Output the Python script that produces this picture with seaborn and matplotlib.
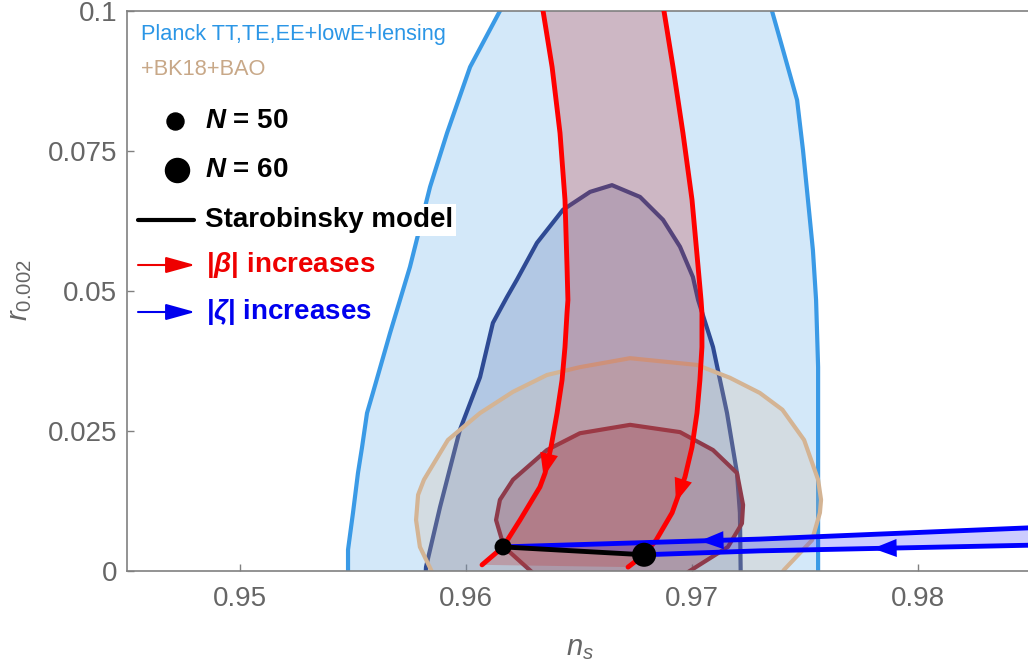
#! /usr/bin/env python3
'''
n_s - r plane with Planck / BK18 contours and model predictions
'''

# imports
import matplotlib
matplotlib.use('Agg')
import matplotlib.pyplot as plt
import numpy as np
import seaborn as sns

# Planck TT,TE,EE+lowE+lensing, 95% and 68% regions
P95_NS = [0.95478, 0.95478, 0.95500, 0.95522, 0.95540, 0.95562, 0.95588, 0.95664, 0.95752, 0.95841, 0.95916, 0.96018,
          0.96150, 0.96190, 0.97336, 0.97354, 0.97403, 0.97465, 0.97491, 0.97513, 0.97535, 0.97549, 0.97558, 0.97558,
          0.97558]
P95_R = [-0.0059, 0.0038, 0.0104, 0.0175, 0.0221, 0.0282, 0.0318, 0.0425, 0.0543, 0.0686, 0.0782, 0.0900,
         0.1000, 0.1020, 0.1020, 0.1000, 0.0930, 0.0841, 0.0752, 0.0663, 0.0573, 0.0484, 0.0364, 0.0163,
         -0.0059]
P68_NS = [0.95814, 0.95823, 0.95885, 0.95973, 0.96062, 0.96119, 0.96181, 0.96225, 0.96314, 0.96429, 0.96549, 0.96646,
          0.96770, 0.96872, 0.96947, 0.97004, 0.97027, 0.97093, 0.97155, 0.97199, 0.97212, 0.97217]
P68_R = [-0.0052, 0.0007, 0.0114, 0.0252, 0.0346, 0.0443, 0.0489, 0.0520, 0.0586, 0.0645, 0.0677, 0.0689,
         0.0668, 0.0627, 0.0579, 0.0525, 0.0484, 0.0400, 0.0282, 0.0175, 0.0104, -0.0052]

# +BK18+BAO, 95% and 68% regions
BK95_NS = [0.95885, 0.95850, 0.95796, 0.95779, 0.95788, 0.95814, 0.95920, 0.96062, 0.96208, 0.96358, 0.96504, 0.96726,
           0.97022, 0.97168, 0.97300, 0.97400, 0.97496, 0.97558, 0.97571, 0.97566, 0.97531, 0.97407, 0.97345, 0.96593]
BK95_R = [-0.0034, -0.0002, 0.0043, 0.0091, 0.0136, 0.0163, 0.0234, 0.0282, 0.0320, 0.0350, 0.0364, 0.0380,
          0.0368, 0.0345, 0.0318, 0.0288, 0.0234, 0.0163, 0.0127, 0.0104, 0.0055, 0.0002, -0.0034, -0.0070]
BK68_NS = [0.96327, 0.96292, 0.96168, 0.96133, 0.96150, 0.96208, 0.96358, 0.96504, 0.96726, 0.96947, 0.97093, 0.97199,
           0.97226, 0.97221, 0.97159, 0.96982, 0.96947]
BK68_R = [-0.0034, -0.0002, 0.0043, 0.0091, 0.0127, 0.0163, 0.0216, 0.0246, 0.0261, 0.0248, 0.0216, 0.0175,
          0.0118, 0.0085, 0.0043, -0.0002, -0.0034]

# |beta| increases: N = 50 (left) and N = 60 (right) tracks
BETA50_NS = [0.96336, 0.96341, 0.96381, 0.96416, 0.96438, 0.96447, 0.96451, 0.96447, 0.96438, 0.96425, 0.96403,
             0.96376, 0.96350, 0.96327, 0.96239, 0.96164, 0.96071]
BETA50_R = [0.1020, 0.1000, 0.0900, 0.0782, 0.0663, 0.0543, 0.0484, 0.0461, 0.0400, 0.0341, 0.0282,
            0.0221, 0.0175, 0.0150, 0.0091, 0.0043, 0.0011]
BETA60_NS = [0.96872, 0.96876, 0.96916, 0.96960, 0.97000, 0.97027, 0.97040, 0.97044, 0.97044, 0.97035, 0.97022,
             0.97000, 0.96969, 0.96912, 0.96841, 0.96788, 0.96717]
BETA60_R = [0.1020, 0.1000, 0.0900, 0.0782, 0.0663, 0.0543, 0.0484, 0.0461, 0.0400, 0.0341, 0.0282,
            0.0221, 0.0168, 0.0104, 0.0055, 0.0029, 0.0007]
BETA_ARROW_R = [0.0168, 0.0123]

# |zeta| increases: N = 50 (upper) and N = 60 (lower) tracks
ZETA50_NS = [0.96164, 0.97301, 0.98487, 0.98540]
ZETA50_R = [0.0043, 0.0057, 0.0077, 0.0078]
ZETA60_NS = [0.96788, 0.97301, 0.98487, 0.98540]
ZETA60_R = [0.0029, 0.0036, 0.0046, 0.0047]
ZETA_ARROW_NS = [0.97035, 0.97801]

# Starobinsky model
STARO_N = [50, 60]
STARO_NS = [0.96164, 0.96788]
STARO_R = [0.0043, 0.0029]

X_TICKS = [0.95, 0.96, 0.97, 0.98]
Y_TICKS = [0, 0.025, 0.05, 0.075, 0.1]
Y_TICKLABELS = ['0', '0.025', '0.05', '0.075', '0.1']

# colours
C_P = '#3a9ae6'
C_P68 = '#2e4a94'
C_BK = '#d4b494'
C_BK68 = '#8e3b4b'
C_BAND = '#c03535'
C_RED = '#ff0000'
C_BLUE = '#0000ff'
C_GRAY = '#666666'

# configure matplotlib
sns.set_theme(style='ticks')
plt.rcParams['font.family'] = ['Liberation Sans', 'DejaVu Sans']
plt.rcParams['mathtext.fontset'] = 'custom'
plt.rcParams['mathtext.rm'] = 'Liberation Sans'
plt.rcParams['mathtext.it'] = 'Liberation Sans:italic'
plt.rcParams['mathtext.bf'] = 'Liberation Sans:bold'
plt.rcParams['mathtext.bfit'] = 'Liberation Sans:bold:italic'


def head_on(ax, ns, r, at, back, color, by_r=True):
    # arrow head sitting on a track, pointing downstream
    ns = np.asarray(ns); r = np.asarray(r)
    if by_r:
        o = np.argsort(r)
        tip = (np.interp(at, r[o], ns[o]), at)
        tail = (np.interp(at + back, r[o], ns[o]), at + back)
    else:
        o = np.argsort(ns)
        tip = (at, np.interp(at, ns[o], r[o]))
        tail = (at + back, np.interp(at + back, ns[o], r[o]))
    ax.annotate('', xy=tip, xytext=tail, zorder=7,
                arrowprops=dict(arrowstyle='-|>,head_length=1.7,head_width=0.65', mutation_scale=10,
                                color=color, lw=0, shrinkA=0, shrinkB=0))


if __name__ == "__main__":
    fig = plt.figure(figsize=(10.28, 6.66), dpi=100)
    ax = fig.add_axes([127 / 1028, 95 / 666, 904 / 1028, 560 / 666])

    # confidence regions
    ax.fill(P95_NS, P95_R, color=C_P, alpha=0.22, lw=0, zorder=1)
    ax.plot(P95_NS + P95_NS[:1], P95_R + P95_R[:1], color=C_P, lw=3, zorder=1.1, solid_joinstyle='round')
    ax.fill(P68_NS, P68_R, color=C_P68, alpha=0.2, lw=0, zorder=1.2)
    ax.plot(P68_NS, P68_R, color=C_P68, lw=3, zorder=1.3, solid_joinstyle='round')
    ax.fill(BK95_NS, BK95_R, color=C_BK, alpha=0.22, lw=0, zorder=1.4)
    ax.plot(BK95_NS + BK95_NS[:1], BK95_R + BK95_R[:1], color=C_BK, lw=3, zorder=1.5, solid_joinstyle='round')
    ax.fill(BK68_NS, BK68_R, color=C_BK68, alpha=0.3, lw=0, zorder=1.6)
    ax.plot(BK68_NS + BK68_NS[:1], BK68_R + BK68_R[:1], color=C_BK68, lw=3, zorder=1.7, solid_joinstyle='round')

    # |beta| band
    ax.fill(BETA50_NS + BETA60_NS[::-1], BETA50_R + BETA60_R[::-1], color=C_BAND, alpha=0.27, lw=0, zorder=2)
    for xs, ys in [(BETA50_NS, BETA50_R), (BETA60_NS, BETA60_R)]:
        sns.lineplot(x=xs, y=ys, sort=False, estimator=None, color=C_RED, lw=3.5, ax=ax, zorder=3)
    for xs, ys, at in zip([BETA50_NS, BETA60_NS], [BETA50_R, BETA60_R], BETA_ARROW_R):
        head_on(ax, xs, ys, at, 0.006, C_RED, by_r=True)

    # |zeta| band
    ax.fill(ZETA50_NS + ZETA60_NS[::-1], ZETA50_R + ZETA60_R[::-1], color=C_BLUE, alpha=0.2, lw=0, zorder=4)
    for xs, ys in [(ZETA50_NS, ZETA50_R), (ZETA60_NS, ZETA60_R)]:
        sns.lineplot(x=xs, y=ys, sort=False, estimator=None, color=C_BLUE, lw=3.5, ax=ax, zorder=5)
    for xs, ys, at in zip([ZETA50_NS, ZETA60_NS], [ZETA50_R, ZETA60_R], ZETA_ARROW_NS):
        head_on(ax, xs, ys, at, 0.0025, C_BLUE, by_r=False)

    # Starobinsky model
    sns.lineplot(x=STARO_NS, y=STARO_R, sort=False, estimator=None, color='black', lw=3.5, ax=ax, zorder=8)
    sns.scatterplot(x=STARO_NS, y=STARO_R, size=STARO_N, sizes={50: 150, 60: 300}, color='black',
                    edgecolor='none', legend=False, ax=ax, zorder=9)

    # legend, drawn by hand
    def fx(px): return (px - 127) / 904
    def fy(py): return (571 - py) / 560
    tr = ax.transAxes
    ax.text(fx(141), fy(35), 'Planck TT,TE,EE+lowE+lensing', color='#2b96e6', fontsize=15.7,
            transform=tr, va='center', ha='left', zorder=10)
    ax.text(fx(141), fy(70), '+BK18+BAO', color='#c8a888', fontsize=15.7,
            transform=tr, va='center', ha='left', zorder=10)
    ax.scatter([fx(175)], [fy(121)], s=150, color='black', transform=tr, zorder=10, clip_on=False)
    ax.scatter([fx(177)], [fy(170)], s=300, color='black', transform=tr, zorder=10, clip_on=False)
    ax.text(fx(205), fy(121), r'$\mathbfit{N}$ = 50', fontweight='bold', fontsize=20, color='black',
            transform=tr, va='center', ha='left', zorder=10)
    ax.text(fx(205), fy(170), r'$\mathbfit{N}$ = 60', fontweight='bold', fontsize=20, color='black',
            transform=tr, va='center', ha='left', zorder=10)
    ax.plot([fx(138), fx(194)], [fy(220), fy(220)], color='black', lw=3, transform=tr, zorder=10)
    ax.text(fx(205), fy(220), 'Starobinsky model', fontweight='bold', fontsize=20, color='black',
            transform=tr, va='center', ha='left', zorder=10,
            bbox=dict(facecolor='white', edgecolor='none', pad=2))
    for py, col, lab in [(265, '#ee0000', r'|$\mathbfit{\beta}$| increases'),
                         (312, '#0000ee', r'|$\mathbfit{\zeta}$| increases')]:
        ax.annotate('', xy=(fx(195), fy(py)), xytext=(fx(138), fy(py)), xycoords=tr, textcoords=tr,
                    arrowprops=dict(arrowstyle='-|>,head_length=1.8,head_width=0.5', mutation_scale=10,
                                    color=col, lw=1.5, shrinkA=0, shrinkB=0), zorder=10)
        ax.text(fx(206), fy(py), lab, fontweight='bold', fontsize=20, color=col,
                transform=tr, va='center', ha='left', zorder=10)

    # axes
    ax.set_xlim(0.945, 0.985)
    ax.set_ylim(0, 0.1)
    ax.set_xticks(X_TICKS)
    ax.set_xticklabels([f'{t:g}' for t in X_TICKS])
    ax.set_yticks(Y_TICKS)
    ax.set_yticklabels(Y_TICKLABELS)
    ax.tick_params(direction='in', length=5, width=1, color='#808080', labelcolor=C_GRAY, labelsize=20)
    ax.tick_params(axis='x', pad=11)
    ax.tick_params(axis='y', pad=7)
    for s in ax.spines.values():
        s.set_color('#808080'); s.set_linewidth(1.2)
    ax.set_xlabel(r'$n_s$', fontsize=21, color=C_GRAY)
    ax.set_ylabel(r'$r_{0.002}$', fontsize=21, color=C_GRAY)
    ax.xaxis.set_label_coords(fx(580), fy(634), transform=tr)
    ax.yaxis.set_label_coords(fx(34), fy(290), transform=tr)

    fig.savefig('out.png', dpi=100)
